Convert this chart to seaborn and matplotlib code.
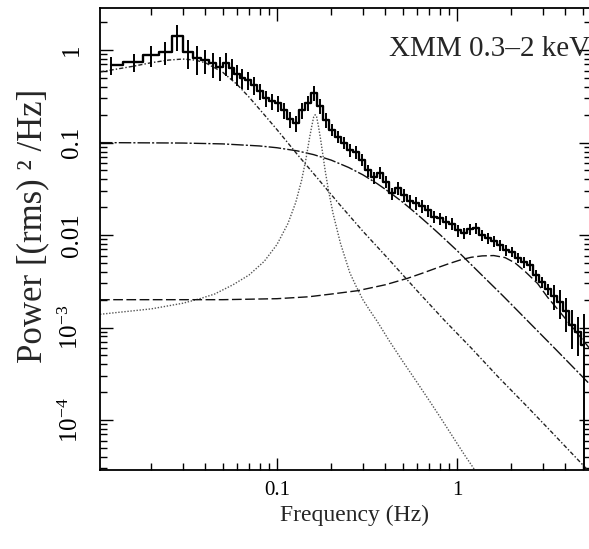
import matplotlib
matplotlib.use("Agg")
import numpy as np
import pandas as pd
import matplotlib.pyplot as plt
import seaborn as sns
from matplotlib.ticker import FixedLocator, FixedFormatter, LogLocator, NullFormatter

# Power spectrum bins (Hz)
freq = [0.012, 0.016, 0.020, 0.024, 0.028, 0.032, 0.036, 0.040, 0.044, 0.048,
        0.052, 0.056, 0.060, 0.064,
        0.069, 0.0743, 0.0802, 0.0866, 0.0935, 0.101, 0.109, 0.118, 0.127, 0.138,
        0.149, 0.161, 0.174, 0.187, 0.202, 0.218, 0.236, 0.254, 0.275, 0.297,
        0.320, 0.346, 0.374, 0.403, 0.436, 0.470, 0.508, 0.548, 0.592, 0.639,
        0.690, 0.745, 0.804, 0.869, 0.938, 1.013, 1.094, 1.181, 1.275, 1.377,
        1.487, 1.605, 1.733, 1.871, 2.020, 2.182, 2.356, 2.543, 2.746, 2.965,
        3.201, 3.457, 3.732, 4.030, 4.351, 4.698, 5.073]
power = [0.69, 0.74, 0.88, 0.95, 1.42, 0.95, 0.82, 0.78, 0.72, 0.65,
         0.72, 0.64, 0.55, 0.50,
         0.474, 0.418, 0.360, 0.303, 0.281, 0.267, 0.224, 0.179, 0.162, 0.224,
         0.267, 0.343, 0.248, 0.175, 0.137, 0.115, 0.099, 0.083, 0.079, 0.065,
         0.050, 0.042, 0.047, 0.0376, 0.0284, 0.0322, 0.0271, 0.0233, 0.0222, 0.0206,
         0.0186, 0.0157, 0.0152, 0.0138, 0.0132, 0.0113, 0.0105, 0.0116, 0.0119, 0.0100,
         0.0093, 0.0086, 0.0078, 0.0069, 0.0066, 0.0057, 0.0051, 0.0047, 0.0037, 0.0031,
         0.0026, 0.0022, 0.0019, 0.0015, 0.00107, 0.00090, 0.00064]
# fractional 1-sigma errors
rel_err = [0.22, 0.22, 0.25, 0.28, 0.32, 0.35, 0.35, 0.30, 0.30, 0.28,
           0.28, 0.25, 0.25, 0.25,
           0.22, 0.22, 0.20, 0.20, 0.20, 0.20, 0.20, 0.20, 0.20, 0.20,
           0.18, 0.18, 0.18, 0.18, 0.15, 0.15, 0.15, 0.15, 0.15, 0.15,
           0.15, 0.15, 0.15, 0.15, 0.15, 0.15, 0.15, 0.15, 0.15, 0.15,
           0.15, 0.15, 0.15, 0.15, 0.15, 0.15, 0.13, 0.13, 0.13, 0.13,
           0.13, 0.13, 0.13, 0.13, 0.13, 0.13, 0.13, 0.13, 0.13, 0.13,
           0.13, 0.30, 0.35, 0.40, 0.45, 0.45, 1.20]

# model components (Lorentzians), sampled from the figure
low_f = [0.0104, 0.013, 0.016, 0.02, 0.025, 0.03, 0.035, 0.04, 0.05, 0.06, 0.07,
         0.085, 0.1, 0.13, 0.17, 0.22, 0.3, 0.42, 0.6, 0.85, 1.2, 1.7, 2.4, 3.4, 5.3]
low_p = [0.58, 0.625, 0.67, 0.73, 0.78, 0.80, 0.78, 0.73, 0.575, 0.425, 0.31,
         0.20, 0.138, 0.074, 0.040, 0.022, 0.011, 5.4e-3, 2.5e-3, 1.2e-3, 6.0e-4,
         2.9e-4, 1.46e-4, 7.2e-5, 2.9e-5]

broad_f = [0.0104, 0.03, 0.05, 0.08, 0.1, 0.13, 0.16, 0.2, 0.25, 0.3, 0.36, 0.42,
           0.5, 0.6, 0.7, 0.8, 1.0, 1.3, 1.8, 2.5, 3.5, 5.55]
broad_p = [0.0999, 0.0988, 0.0967, 0.0919, 0.0879, 0.0812, 0.074, 0.0646, 0.0538,
           0.0448, 0.036, 0.0292, 0.0226, 0.0168, 0.0129, 0.0102, 0.0068, 0.0041,
           0.0022, 0.00115, 0.000592, 0.000236]

qpo_f = [0.0104, 0.02, 0.03, 0.037, 0.045, 0.057, 0.07, 0.085, 0.1, 0.115, 0.127,
         0.137, 0.145, 0.152, 0.156, 0.16, 0.163, 0.166, 0.17, 0.175, 0.185, 0.193,
         0.205, 0.225, 0.254, 0.275, 0.3, 0.33, 0.36, 0.42, 0.5, 0.6, 0.7, 0.8,
         0.9, 1.0, 1.1, 1.21, 1.3]
qpo_p = [1.39e-3, 1.59e-3, 1.83e-3, 2.04e-3, 2.3e-3, 2.9e-3, 3.7e-3, 5.2e-3, 7.9e-3,
         0.0133, 0.0224, 0.039, 0.067, 0.115, 0.15, 0.19, 0.20, 0.19, 0.15, 0.106,
         0.0506, 0.0308, 0.017, 8.2e-3, 3.9e-3, 2.8e-3, 2.0e-3, 1.5e-3, 1.17e-3,
         7.2e-4, 4.3e-4, 2.55e-4, 1.63e-4, 1.10e-4, 7.7e-5, 5.6e-5, 4.2e-5, 3.2e-5,
         2.6e-5]

high_f = [0.0104, 0.05, 0.1, 0.15, 0.2, 0.28, 0.4, 0.53, 0.65, 0.77, 0.9, 1.05,
          1.2, 1.38, 1.6, 1.85, 2.1, 2.4, 2.8, 3.2, 3.7, 4.3, 5.55]
high_p = [2.0e-3, 2.0e-3, 2.05e-3, 2.15e-3, 2.3e-3, 2.5e-3, 2.9e-3, 3.4e-3, 3.9e-3,
          4.4e-3, 4.9e-3, 5.4e-3, 5.75e-3, 5.95e-3, 6.0e-3, 5.7e-3, 5.0e-3, 4.0e-3,
          3.0e-3, 2.1e-3, 1.5e-3, 1.05e-3, 5.7e-4]

df = pd.DataFrame({"freq": freq, "power": power})
df["err"] = df["power"] * np.array(rel_err)

sns.set_theme(style="ticks")
plt.rcParams["font.family"] = ["Liberation Serif", "DejaVu Serif"]
plt.rcParams["mathtext.fontset"] = "custom"
plt.rcParams["mathtext.rm"] = "Liberation Serif"
plt.rcParams["mathtext.it"] = "Liberation Serif:italic"

fig = plt.figure(figsize=(5.89, 5.49), dpi=100)
ax = fig.add_axes([0.1698, 0.1439, 0.8336, 0.8415])
ax.set_xscale("log")
ax.set_yscale("log")

# model components
sns.lineplot(x=low_f, y=low_p, ax=ax, color="#222222", lw=1.0,
             linestyle=(0, (3, 1.5, 1, 1.5)), estimator=None, sort=False)
sns.lineplot(x=broad_f, y=broad_p, ax=ax, color="#111111", lw=1.0,
             linestyle=(0, (9, 1.5, 1.5, 1.5)), estimator=None, sort=False)
sns.lineplot(x=qpo_f, y=qpo_p, ax=ax, color="#555555", lw=1.0,
             linestyle=(0, (1, 1.2)), estimator=None, sort=False)
sns.lineplot(x=high_f, y=high_p, ax=ax, color="#111111", lw=1.0,
             linestyle=(0, (7, 2.5)), estimator=None, sort=False)

# data: histogram steps with error bars
sns.lineplot(data=df, x="freq", y="power", ax=ax, color="black", lw=1.7,
             drawstyle="steps-mid", estimator=None, sort=False)
ax.errorbar(df["freq"], df["power"], yerr=df["err"], fmt="none",
            ecolor="black", elinewidth=1.4, capsize=0)

ax.set_xlim(0.0104, 5.55)
ax.set_ylim(2.88e-5, 2.85)

ax.xaxis.set_major_locator(FixedLocator([0.1, 1]))
ax.xaxis.set_major_formatter(FixedFormatter(["0.1", "1"]))
ax.xaxis.set_minor_locator(LogLocator(base=10, subs=np.arange(2, 10), numticks=20))
ax.xaxis.set_minor_formatter(NullFormatter())

ax.yaxis.set_major_locator(FixedLocator([1e-4, 1e-3, 1e-2, 0.1, 1]))
ax.yaxis.set_major_formatter(FixedFormatter([r"$10^{-4}$", r"$10^{-3}$", "0.01", "0.1", "1"]))
ax.yaxis.set_minor_locator(LogLocator(base=10, subs=np.arange(2, 10), numticks=20))
ax.yaxis.set_minor_formatter(NullFormatter())

ax.tick_params(which="both", direction="in", top=True, right=True, colors="black",
               width=1.0)
ax.tick_params(which="major", length=9)
ax.tick_params(which="minor", length=5)
ax.tick_params(axis="x", which="major", pad=8, labelsize=15)
ax.tick_params(axis="y", which="major", pad=12, labelsize=18)
for lab in ax.get_yticklabels():
    lab.set_rotation(90)
    lab.set_va("center")

for sp in ax.spines.values():
    sp.set_linewidth(1.3)
    sp.set_color("black")

ax.set_xlabel("Frequency (Hz)", fontsize=17)
ax.set_ylabel("Power [(rms) ² /Hz]", fontsize=25)
ax.xaxis.set_label_coords(0.519, -0.075)
ax.yaxis.set_label_coords(-0.103, 0.528)

ax.text(0.588, 0.911, "XMM 0.3–2 keV", transform=ax.transAxes, fontsize=21,
        ha="left", va="center", clip_on=True)

fig.savefig("out.png", dpi=100)
